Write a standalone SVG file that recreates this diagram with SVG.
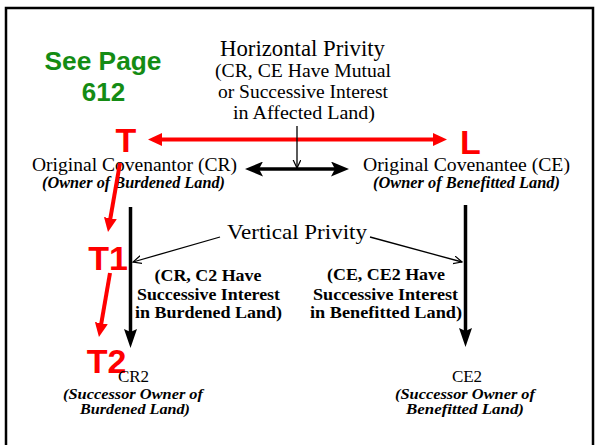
<svg xmlns="http://www.w3.org/2000/svg" width="595" height="445" viewBox="0 0 595 445">
<defs>
<style>
.ser{font-family:"Liberation Serif","Times New Roman",serif;fill:#000;text-anchor:middle}
.bi{font-family:"Liberation Serif","Times New Roman",serif;font-weight:bold;font-style:italic;fill:#000;text-anchor:middle}
.b{font-family:"Liberation Serif","Times New Roman",serif;font-weight:bold;fill:#000;text-anchor:middle}
.red{font-family:"Liberation Sans",Arial,sans-serif;font-weight:bold;fill:#ff0000;font-size:34px}
.grn{font-family:"Liberation Sans",Arial,sans-serif;font-weight:bold;fill:#148c14;font-size:26px;text-anchor:middle}
.rl{stroke:#ff0000;stroke-width:4;fill:none}
.bl{stroke:#000;stroke-width:3.5;fill:none}
.tl{stroke:#000;stroke-width:1.3;fill:none}
</style>
<marker id="rh" markerUnits="userSpaceOnUse" markerWidth="14" markerHeight="13" refX="2" refY="6.5" orient="auto-start-reverse"><path d="M0,0 L14,6.5 L0,13 z" fill="#ff0000"/></marker>
<marker id="bh" markerUnits="userSpaceOnUse" markerWidth="18" markerHeight="15" refX="4" refY="7.5" orient="auto-start-reverse"><path d="M0,0 L18,7.5 L0,15 L4,7.5 z" fill="#000"/></marker>
<marker id="vh" markerUnits="userSpaceOnUse" markerWidth="19" markerHeight="13" refX="3" refY="6.5" orient="auto"><path d="M0,0 L19,6.5 L0,13 L3,6.5 z" fill="#000"/></marker>
<marker id="oh" markerUnits="userSpaceOnUse" markerWidth="10" markerHeight="10" refX="8.5" refY="4" orient="auto"><path d="M0,0 L8.5,4 L0,8" fill="none" stroke="#000" stroke-width="1.2"/></marker>
</defs>
<rect x="0" y="0" width="595" height="445" fill="#fff"/>
<rect x="6" y="8" width="587" height="460" fill="none" stroke="#000" stroke-width="2.5"/>

<g id="see-page">
<text class="grn" x="103" y="70" textLength="117" lengthAdjust="spacingAndGlyphs">See Page</text>
<text class="grn" x="103.5" y="101">612</text>
</g>

<g id="horizontal-privity">
<text class="ser" x="302.5" y="56" font-size="22.5" textLength="165" lengthAdjust="spacingAndGlyphs">Horizontal Privity</text>
<text class="ser" x="303" y="77" font-size="18" textLength="176" lengthAdjust="spacingAndGlyphs">(CR, CE Have Mutual</text>
<text class="ser" x="303" y="98" font-size="18" textLength="170" lengthAdjust="spacingAndGlyphs">or Successive Interest</text>
<text class="ser" x="304" y="119" font-size="18" textLength="142" lengthAdjust="spacingAndGlyphs">in Affected Land)</text>
</g>

<g id="T"><text class="red" x="126" y="152" text-anchor="middle">T</text></g>
<g id="L"><text class="red" x="460" y="154">L</text></g>
<g id="T1"><text class="red" x="108" y="270" text-anchor="middle">T1</text></g>
<g id="T2"><text class="red" x="106.5" y="373" text-anchor="middle">T2</text></g>

<g id="covenantor">
<text class="ser" x="134.5" y="170.5" font-size="18" textLength="205" lengthAdjust="spacingAndGlyphs">Original Covenantor (CR)</text>
<text class="bi" x="133.5" y="187.5" font-size="16" textLength="183" lengthAdjust="spacingAndGlyphs">(Owner of Burdened Land)</text>
</g>

<g id="covenantee">
<text class="ser" x="466.5" y="170.5" font-size="18" textLength="207" lengthAdjust="spacingAndGlyphs">Original Covenantee (CE)</text>
<text class="bi" x="466.5" y="187.5" font-size="16" textLength="187" lengthAdjust="spacingAndGlyphs">(Owner of Benefitted Land)</text>
</g>

<g id="vertical-privity">
<text class="ser" x="297" y="239" font-size="22" textLength="140" lengthAdjust="spacingAndGlyphs">Vertical Privity</text>
</g>

<g id="cr-c2-note">
<text class="b" x="208" y="281" font-size="17" textLength="107" lengthAdjust="spacingAndGlyphs">(CR, C2 Have</text>
<text class="b" x="208.5" y="300" font-size="17" textLength="143" lengthAdjust="spacingAndGlyphs">Successive Interest</text>
<text class="b" x="208.5" y="318" font-size="17" textLength="147" lengthAdjust="spacingAndGlyphs">in Burdened Land)</text>
</g>

<g id="ce-ce2-note">
<text class="b" x="386" y="280" font-size="17" textLength="118" lengthAdjust="spacingAndGlyphs">(CE, CE2 Have</text>
<text class="b" x="385.5" y="300" font-size="17" textLength="145" lengthAdjust="spacingAndGlyphs">Successive Interest</text>
<text class="b" x="386" y="318" font-size="17" textLength="152" lengthAdjust="spacingAndGlyphs">in Benefitted Land)</text>
</g>

<g id="CR2">
<text class="ser" x="133.5" y="382" font-size="17">CR2</text>
<text class="bi" x="133" y="399" font-size="15" textLength="140" lengthAdjust="spacingAndGlyphs">(Successor Owner of</text>
<text class="bi" x="135" y="414" font-size="15" textLength="110" lengthAdjust="spacingAndGlyphs">Burdened Land)</text>
</g>

<g id="CE2">
<text class="ser" x="467" y="382" font-size="17">CE2</text>
<text class="bi" x="465" y="399" font-size="15" textLength="140" lengthAdjust="spacingAndGlyphs">(Successor Owner of</text>
<text class="bi" x="465" y="413.5" font-size="15" textLength="118" lengthAdjust="spacingAndGlyphs">Benefitted Land)</text>
</g>

<g id="connectors">
<line class="rl" x1="160" y1="139.5" x2="435" y2="139.5" marker-start="url(#rh)" marker-end="url(#rh)"/>
<line class="rl" x1="120" y1="163" x2="110.05" y2="220.2" marker-end="url(#rh)"/>
<line class="rl" x1="110" y1="273" x2="101" y2="325.2" marker-end="url(#rh)"/>
<line class="bl" x1="259" y1="169" x2="335" y2="169" stroke-width="3" marker-start="url(#bh)" marker-end="url(#bh)"/>
<line class="tl" x1="297" y1="126" x2="297" y2="168" marker-end="url(#oh)"/>
<line class="bl" x1="130.5" y1="207" x2="130.5" y2="332" marker-end="url(#vh)"/>
<line class="bl" x1="465.5" y1="205" x2="465.5" y2="331" marker-end="url(#vh)"/>
<line class="tl" x1="220" y1="237" x2="133" y2="262" marker-end="url(#oh)"/>
<line class="tl" x1="370" y1="237" x2="462" y2="262" marker-end="url(#oh)"/>
</g>
</svg>
